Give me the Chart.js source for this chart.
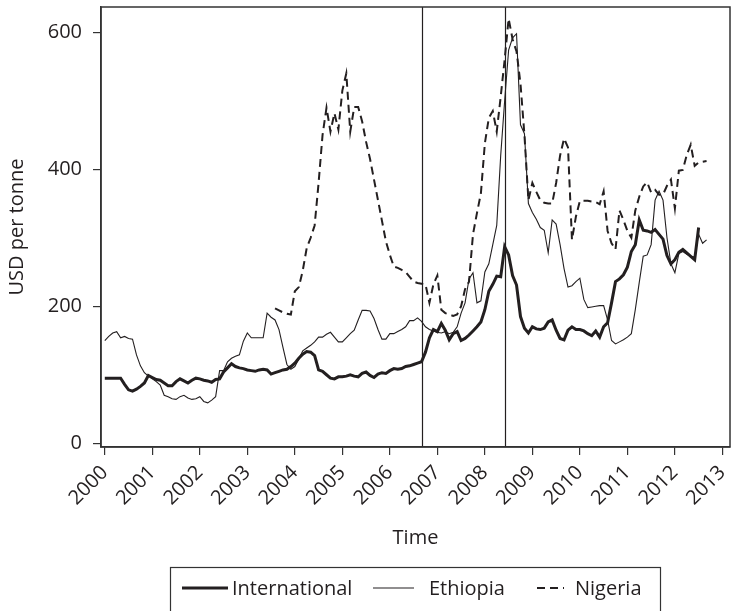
<!DOCTYPE html>
<html>
<head>
<meta charset="utf-8">
<script src="https://cdn.jsdelivr.net/npm/chart.js@4.4.1/dist/chart.umd.min.js"></script>
<style>
  html, body { margin: 0; padding: 0; background: #fff; }
  #wrap { width: 733px; height: 611px; }
</style>
</head>
<body>
<div id="wrap"><canvas id="c" width="733" height="611"></canvas></div>
<script>
// Monthly prices, USD per tonne, starting January 2000.
const startYear = 2000;

const intl = [
  95, 95, 95, 95, 95, 86, 78, 76, 79, 83, 88, 99,
  96, 93, 92, 88, 84, 84, 90, 94, 91, 88, 92, 95,
  94, 92, 91, 89, 93, 94, 104, 110, 116, 112, 110, 109,
  107, 106, 105, 107, 108, 107, 101, 103, 105, 107, 108, 112,
  117, 124, 130, 134, 133, 128, 107, 105, 100, 95, 94, 97,
  97, 98, 100, 98, 97, 102, 104, 99, 96, 101, 103, 102,
  106, 109, 108, 109, 112, 113, 115, 117, 119, 133, 154, 166,
  163, 175, 165, 151, 160, 163, 150, 153, 158, 164, 170, 177,
  195, 222, 232, 244, 243, 287, 275, 245, 231, 185, 168, 161,
  170, 167, 166, 168, 177, 180, 165, 153, 151, 165, 170, 166,
  166, 164, 160, 157, 164, 155, 170, 176, 205, 236, 240, 246,
  257, 280, 290, 326, 311, 310, 308, 312, 305, 298, 274, 262,
  268, 279, 283, 278, 273, 268, 315
];

const eth = [
  150, 156, 161, 163, 154, 156, 153, 152, 129, 113, 103, 98,
  94, 90, 85, 70, 68, 65, 64, 68, 70, 66, 64, 65,
  68, 61, 59, 63, 68, 106, 106, 119, 124, 127, 129, 149,
  161, 154, 154, 154, 154, 190, 184, 180, 166, 140, 115, 108,
  112, 123, 135, 139, 143, 148, 155, 155, 159, 162, 155, 148,
  148, 154, 160, 165, 180, 194, 194, 193, 182, 166, 152, 152,
  160, 160, 163, 166, 170, 179, 179, 183, 178, 170, 166, 164,
  162, 161, 163, 160, 162, 170, 190, 205, 240, 249, 205, 208,
  250, 262, 290, 318, 420, 500, 574, 592, 598, 465, 452, 350,
  337, 327, 315, 311, 278, 326, 320, 290, 255, 228, 230, 236,
  241, 210, 198, 199, 200, 201, 201, 180, 150, 145, 148, 151,
  155, 160, 195, 235, 273, 275, 290, 355, 368, 355, 300, 262,
  249, 277, 280, 276, 273, 272, 305, 292, 297
];

// Nigeria series begins in August 2003 (month index 43).
const ngaStartMonth = 43;
const nga = [
  197, 194, 191, 189, 188,
  222, 228, 252, 285, 300, 318, 380, 450, 490, 455, 482, 458,
  515, 540, 455, 491, 491, 470, 440, 415, 385, 355, 325, 295,
  275, 258, 256, 253, 250, 243, 236, 234, 233, 232, 205, 232,
  245, 195, 190, 188, 186, 188, 200, 225, 236, 305, 336, 365,
  438, 475, 485, 455, 506, 560, 620, 590, 572, 525, 450, 355,
  380, 367, 355, 351, 350, 350, 380, 420, 445, 432, 297, 331,
  354, 354, 354, 353, 352, 349, 368, 310, 292, 283, 340, 326,
  310, 300, 340, 360, 375, 381, 366, 370, 363, 363, 376, 385,
  343, 398, 399, 421, 436, 405, 410, 411, 412
];

const yearTicks = [2000, 2001, 2002, 2003, 2004, 2005, 2006, 2007, 2008, 2009, 2010, 2011, 2012, 2013];
const priceTicks = [0, 200, 400, 600];
// September 2006 and June 2008
const eventDates = [2006 + 8 / 12, 2008 + 5 / 12];
const seriesNames = ['International', 'Ethiopia', 'Nigeria'];

const INK = '#231f20';
const FONT = '"Open Sans", sans-serif';
const FS = 20;

function toPoints(values, firstMonth) {
  return values.map((v, i) => ({ x: startYear + (firstMonth + i) / 12, y: v }));
}

const frameAndEvents = {
  id: 'frameAndEvents',
  beforeDatasetsDraw(chart) {
    const { ctx, chartArea: a, scales: { x } } = chart;
    ctx.save();
    ctx.strokeStyle = INK;
    ctx.lineWidth = 1.2;
    eventDates.forEach((d) => {
      const px = Math.round(x.getPixelForValue(d)) + 0.5;
      ctx.beginPath();
      ctx.moveTo(px, a.top);
      ctx.lineTo(px, a.bottom);
      ctx.stroke();
    });
    ctx.restore();
  },
  afterDraw(chart) {
    const { ctx, chartArea: a } = chart;
    ctx.save();
    ctx.strokeStyle = '#333';
    ctx.lineWidth = 1.5;
    ctx.strokeRect(a.left, a.top, a.right - a.left, a.bottom - a.top);
    ctx.restore();
  }
};

// Legend with the three line styles, drawn in a framed box under the axis title.
const styledLegend = {
  id: 'styledLegend',
  afterDraw(chart) {
    const { ctx } = chart;
    const ds = chart.data.datasets;
    ctx.save();
    ctx.strokeStyle = '#333';
    ctx.lineWidth = 1.2;
    ctx.strokeRect(170.5, 567.5, 490, 60);
    ctx.font = FS + 'px ' + FONT;
    ctx.fillStyle = INK;
    ctx.textBaseline = 'alphabetic';
    const items = [
      { x0: 182, x1: 228, tx: 232 },
      { x0: 373, x1: 414, tx: 429 },
      { x0: 537, x1: 564, tx: 575 }
    ];
    items.forEach((it, i) => {
      const d = ds[i];
      ctx.strokeStyle = INK;
      ctx.lineWidth = d.borderWidth;
      ctx.setLineDash(d.borderDash || []);
      ctx.beginPath();
      ctx.moveTo(it.x0, 588);
      ctx.lineTo(it.x1, 588);
      ctx.stroke();
      ctx.setLineDash([]);
      ctx.fillText(seriesNames[i], it.tx, 595);
    });
    ctx.restore();
  }
};

new Chart(document.getElementById('c'), {
  type: 'line',
  data: {
    datasets: [
      { label: seriesNames[0], data: toPoints(intl, 0), borderColor: INK, borderWidth: 3, pointRadius: 0, tension: 0 },
      { label: seriesNames[1], data: toPoints(eth, 0), borderColor: INK, borderWidth: 1.1, pointRadius: 0, tension: 0 },
      { label: seriesNames[2], data: toPoints(nga, ngaStartMonth), borderColor: INK, borderWidth: 2, borderDash: [8, 5], pointRadius: 0, tension: 0 }
    ]
  },
  options: {
    responsive: false,
    animation: false,
    devicePixelRatio: 1,
    layout: { padding: { top: 7, right: 3, left: 0, bottom: 53 } },
    plugins: { legend: { display: false }, tooltip: { enabled: false } },
    scales: {
      x: {
        type: 'linear',
        min: 1999.92,
        max: 2013.16,
        afterBuildTicks: (s) => { s.ticks = yearTicks.map((v) => ({ value: v })); },
        afterFit: (s) => { s.height = 111; s.paddingLeft = 0; s.paddingRight = 0; },
        ticks: {
          autoSkip: false, minRotation: 45, maxRotation: 45, padding: 6,
          color: INK, font: { family: FONT, size: FS },
          callback: (v) => String(v)
        },
        grid: { drawOnChartArea: false, drawTicks: true, tickLength: 8, color: '#333', lineWidth: 1.2 },
        border: { display: true, color: '#333', width: 1.5 },
        title: { display: true, text: 'Time', color: INK, font: { family: FONT, size: FS }, padding: { top: 0, bottom: 8 } }
      },
      y: {
        min: -5.5,
        max: 637,
        afterBuildTicks: (s) => { s.ticks = priceTicks.map((v) => ({ value: v })); },
        afterFit: (s) => { s.width = 101; s.paddingTop = 0; s.paddingBottom = 0; },
        ticks: { color: INK, padding: 11, font: { family: FONT, size: FS } },
        grid: { drawOnChartArea: false, drawTicks: true, tickLength: 8, color: '#333', lineWidth: 1.2 },
        border: { display: true, color: '#333', width: 1.5 },
        title: { display: true, text: 'USD per tonne', color: INK, font: { family: FONT, size: FS }, padding: { top: 5, bottom: 0 } }
      }
    }
  },
  plugins: [frameAndEvents, styledLegend]
});
</script>
</body>
</html>
